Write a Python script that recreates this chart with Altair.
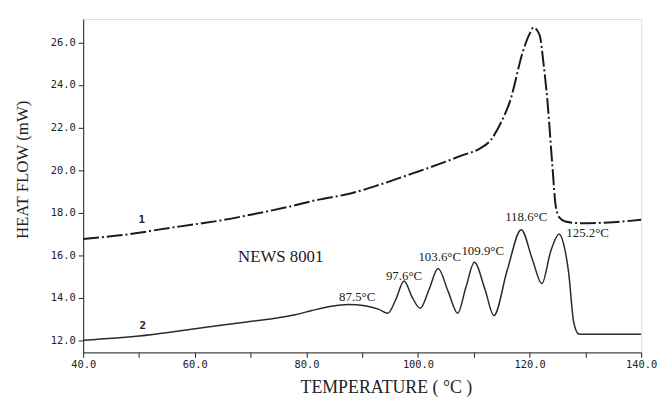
import altair as alt
import pandas as pd

# Curve 1 (dash-dot)
t1 = [40, 50, 53.5, 60, 65.3, 70, 76.9, 82, 87.9, 93, 98.9, 104, 108, 111, 113, 115,
      116.5, 118.8, 120, 120.7, 121.8, 122.5, 123.2, 124.1, 124.7, 125.4, 126.4, 129.4, 135, 140]
h1 = [16.76, 17.05, 17.2, 17.45, 17.66, 17.9, 18.28, 18.6, 18.9, 19.3, 19.83, 20.3, 20.7, 21.0, 21.4, 22.3,
      23.24, 25.57, 26.4, 26.7, 26.34, 25.0, 23.24, 20.14, 18.28, 17.75, 17.58, 17.5, 17.55, 17.66]

# Curve 2 (solid)
t2 = [40, 50, 56.8, 65, 74.4, 78, 81, 84.5, 87.5, 90.5, 93, 94.6, 96, 97.5, 99, 100.4, 102, 103.6, 105.4, 107.1,
      108.6, 110.1, 112, 113.6, 116, 118.5, 120.5, 122.2, 123.8, 125.3, 126.3, 127.0, 127.9, 128.8, 130, 140]
h2 = [12.0, 12.2, 12.42, 12.72, 13.04, 13.2, 13.4, 13.6, 13.68, 13.62, 13.45, 13.27, 13.9, 14.79, 14.0, 13.5, 14.4, 15.37, 14.3, 13.27,
      14.5, 15.67, 14.4, 13.16, 15.3, 17.2, 15.8, 14.66, 16.2, 17.0, 16.3, 15.18, 12.86, 12.3, 12.28, 12.28]

# Peak labels
peak_text = ["87.5°C", "97.6°C", "103.6°C", "109.9°C", "118.6°C", "125.2°C"]
peak_t = [89.1, 97.5, 103.9, 111.6, 119.4, 130.4]
peak_h = [14.03, 15.0, 15.93, 16.19, 17.79, 17.04]

# Curve numbers
num_text = ["1", "2"]
num_t = [50.5, 50.7]
num_h = [17.65, 12.67]

sample_text = ["NEWS 8001"]
sample_t = [75.4]
sample_h = [15.9]

x_ticks = [40, 50, 60, 70, 80, 90, 100, 110, 120, 130, 140]
y_ticks = [12, 14, 16, 18, 20, 22, 24, 26]

df1 = pd.DataFrame({"t": t1, "h": h1})
df2 = pd.DataFrame({"t": t2, "h": h2})
dfp = pd.DataFrame({"t": peak_t, "h": peak_h, "label": peak_text})
dfn = pd.DataFrame({"t": num_t, "h": num_h, "label": num_text})
dfs = pd.DataFrame({"t": sample_t, "h": sample_h, "label": sample_text})

xscale = alt.Scale(domain=[40, 140], nice=False, zero=False)
yscale = alt.Scale(domain=[11.43, 27.1], nice=False, zero=False)

xaxis = alt.Axis(
    title="TEMPERATURE ( °C )", values=x_ticks,
    labelExpr="datum.value % 20 == 0 ? format(datum.value, '.1f') : ''",
    grid=False, tickSize=5, labelPadding=2, labelFont="DejaVu Sans Mono", labelFontSize=10.5,
    labelColor="#222", domainColor="#222", tickColor="#222",
    titleFont="Liberation Serif", titleFontSize=18, titleFontWeight="normal", titleColor="#222",
    titleX=306, titleY=36, titleBaseline="middle", labelFlush=False,
)
yaxis = alt.Axis(
    title="HEAT FLOW (mW)", values=y_ticks, format=".1f",
    grid=False, tickSize=5, labelPadding=3, labelFont="DejaVu Sans Mono", labelFontSize=10.5,
    labelColor="#222", domainColor="#222", tickColor="#222",
    titleFont="Liberation Serif", titleFontSize=17, titleFontWeight="normal", titleColor="#222",
    titleX=-61, titleY=152, titleAngle=-90, titleBaseline="middle", titleAlign="center", labelFlush=False,
)

line1 = alt.Chart(df1).mark_line(
    interpolate="monotone", color="#1a1a1a", strokeWidth=2, strokeDash=[16, 3, 2, 3]
).encode(x=alt.X("t:Q", scale=xscale, axis=xaxis), y=alt.Y("h:Q", scale=yscale, axis=yaxis))

line2 = alt.Chart(df2).mark_line(
    interpolate="monotone", color="#2a2a2a", strokeWidth=1.5
).encode(x=alt.X("t:Q", scale=xscale), y=alt.Y("h:Q", scale=yscale))

peaks = alt.Chart(dfp).mark_text(
    font="Liberation Serif", fontSize=13, color="#222", baseline="middle"
).encode(x=alt.X("t:Q", scale=xscale), y=alt.Y("h:Q", scale=yscale), text="label:N")

nums = alt.Chart(dfn).mark_text(
    font="DejaVu Sans Mono", fontSize=11, fontWeight="bold", color="#222", baseline="middle"
).encode(x=alt.X("t:Q", scale=xscale), y=alt.Y("h:Q", scale=yscale), text="label:N")

sample = alt.Chart(dfs).mark_text(
    font="Liberation Serif", fontSize=17, color="#222", baseline="middle"
).encode(x=alt.X("t:Q", scale=xscale), y=alt.Y("h:Q", scale=yscale), text="label:N")

chart = alt.layer(line1, line2, peaks, nums, sample).properties(
    width=564, height=337,
    autosize=alt.AutoSizeParams(type="none"),
    padding={"left": 76, "top": 9, "right": 18, "bottom": 46},
).configure_view(stroke="#222", strokeWidth=1.2).configure(background="white")

chart.save("out.html", embed_options={"renderer": "svg", "actions": False})
